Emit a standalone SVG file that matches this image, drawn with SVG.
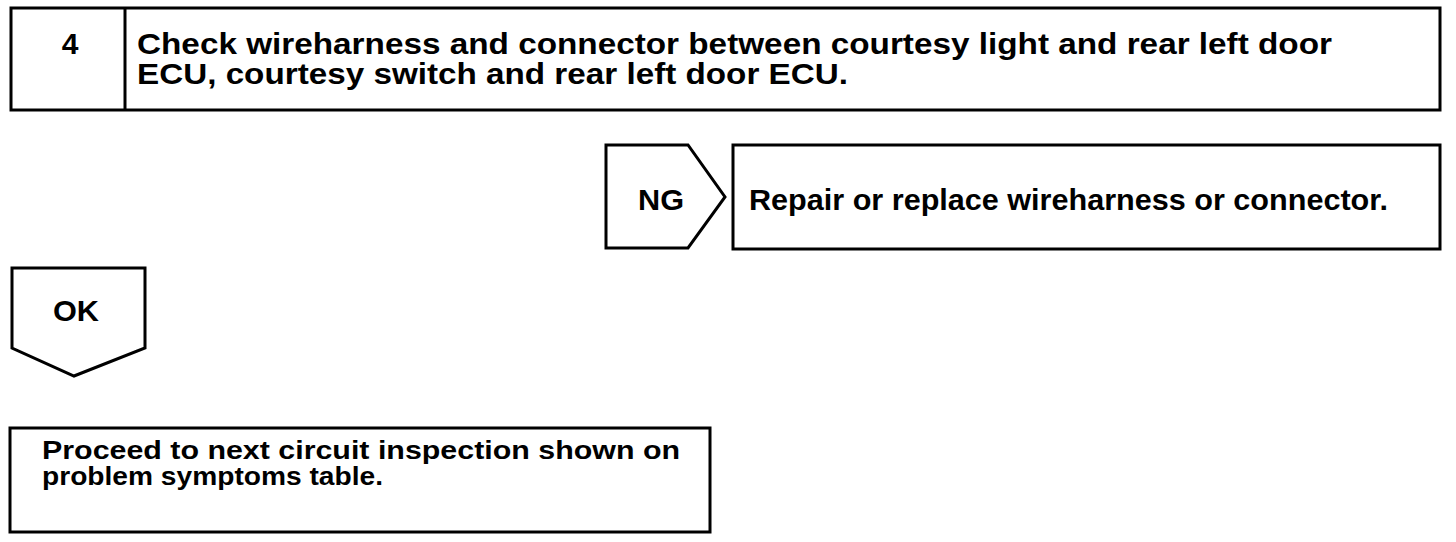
<svg xmlns="http://www.w3.org/2000/svg" width="1456" height="542" viewBox="0 0 1456 542">
<style>
.box{fill:#fff;stroke:#000;stroke-width:3}
.t{font-family:"Liberation Sans",Arial,sans-serif;font-weight:bold;font-size:30px;fill:#000}
.s{font-size:25px}
</style>
<rect width="1456" height="542" fill="#fff"/>
<g id="step4">
<rect class="box" x="11" y="8" width="1429" height="102"/>
<line x1="125" y1="8" x2="125" y2="110" stroke="#000" stroke-width="3"/>
<text class="t" x="70" y="54" text-anchor="middle">4</text>
<text class="t" x="137" y="54" textLength="1195" lengthAdjust="spacingAndGlyphs">Check wireharness and connector between courtesy light and rear left door</text>
<text class="t" x="137" y="84" textLength="711" lengthAdjust="spacingAndGlyphs">ECU, courtesy switch and rear left door ECU.</text>
</g>
<g id="ng">
<polygon class="box" points="606,145 688,145 725,197 688,248 606,248"/>
<text class="t" x="661" y="210" text-anchor="middle" textLength="46" lengthAdjust="spacingAndGlyphs">NG</text>
</g>
<g id="repair">
<rect class="box" x="733" y="145" width="707" height="104"/>
<text class="t" x="749" y="210" textLength="639" lengthAdjust="spacingAndGlyphs">Repair or replace wireharness or connector.</text>
</g>
<g id="ok">
<polygon class="box" points="12,268 145,268 145,348 74,376 12,348"/>
<text class="t" x="76" y="321" text-anchor="middle" textLength="46" lengthAdjust="spacingAndGlyphs">OK</text>
</g>
<g id="proceed">
<rect class="box" x="10" y="428" width="700" height="104"/>
<text class="t s" x="42" y="459" textLength="638" lengthAdjust="spacingAndGlyphs">Proceed to next circuit inspection shown on</text>
<text class="t s" x="42" y="485" textLength="341" lengthAdjust="spacingAndGlyphs">problem symptoms table.</text>
</g>
<g id="connectors"></g>
</svg>
